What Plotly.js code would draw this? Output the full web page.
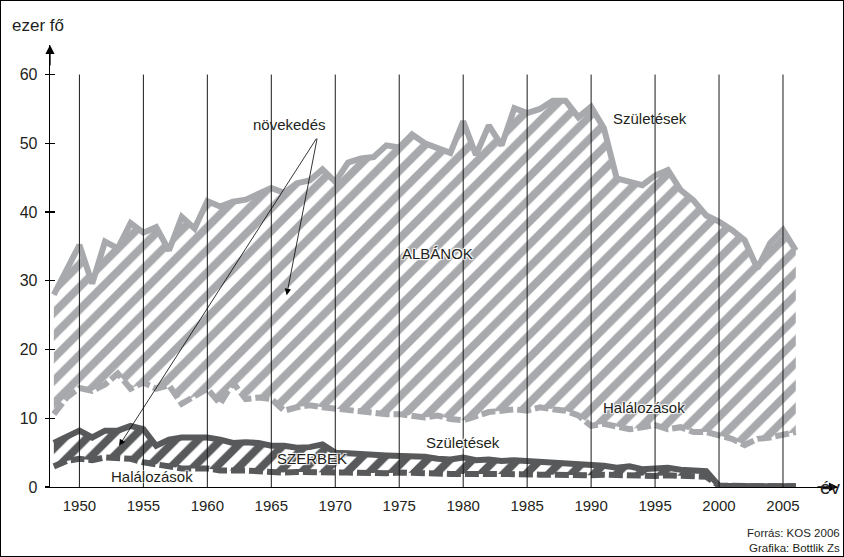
<!DOCTYPE html>
<html>
<head>
<meta charset="utf-8">
<script src="https://cdn.plot.ly/plotly-3.0.1.min.js"></script>
<style>
  html, body { margin: 0; padding: 0; background: #fff; }
  #chart { width: 842px; height: 555px; border: 1px solid #000; }
</style>
</head>
<body>
<div id="chart"></div>
<script>
// ---- data (ezer fő) ----
const years = [1948,1949,1950,1951,1952,1953,1954,1955,1956,1957,1958,1959,1960,1961,1962,1963,1964,1965,1966,1967,1968,1969,1970,1971,1972,1973,1974,1975,1976,1977,1978,1979,1980,1981,1982,1983,1984,1985,1986,1987,1988,1989,1990,1991,1992,1993,1994,1995,1996,1997,1998,1999,2000,2001,2002,2003,2004,2005,2006];

const albBirths = [28.0,31.5,35.2,29.6,35.7,34.7,38.4,37.0,37.8,34.4,39.3,37.6,41.6,40.8,41.5,41.8,42.6,43.5,42.8,44.2,44.6,46.2,44.4,47.2,47.8,48.0,49.7,49.4,51.3,50.0,49.3,48.6,53.2,48.3,52.6,49.7,55.1,54.4,55.0,56.2,56.2,53.8,55.3,52.2,44.9,44.4,43.9,45.3,46.1,43.2,41.7,39.5,38.6,37.4,35.9,31.8,35.5,37.4,34.4];

const albDeaths = [10.6,13.0,14.4,14.0,14.9,16.5,14.3,15.2,14.3,14.8,12.1,13.3,14.3,12.1,15.2,12.8,13.0,12.8,11.1,11.6,11.9,11.6,11.4,11.1,10.9,10.9,10.6,10.6,10.4,10.1,10.4,9.9,9.7,10.4,10.9,11.1,11.3,11.1,11.6,11.3,11.1,10.4,8.9,9.2,8.7,8.4,8.7,9.0,8.4,8.7,8.0,8.0,7.5,7.0,6.1,7.0,7.2,7.5,8.0];

const srbBirths = [6.4,7.4,8.2,7.2,8.2,8.2,8.9,8.4,6.0,6.9,7.2,7.2,7.2,6.9,6.4,6.5,6.4,6.0,6.0,5.7,5.8,6.2,5.0,4.9,4.7,4.7,4.6,4.6,4.5,4.4,4.1,4.0,4.3,3.9,4.0,3.8,3.9,3.8,3.6,3.5,3.4,3.3,3.4,3.1,2.8,3.0,2.6,2.8,2.8,2.5,2.5,2.3,0.2,0.1,0.1,0.1,0.1,0.1,0.1];

const srbDeaths = [3.0,3.8,4.1,3.9,4.3,4.3,4.1,3.6,3.3,2.9,2.7,2.7,2.7,2.4,2.5,2.4,2.3,2.1,2.1,2.2,2.1,2.2,2.1,2.1,2.0,2.0,2.0,2.1,2.0,1.9,2.0,1.9,1.9,2.0,1.9,1.9,1.8,1.9,1.8,1.8,1.7,1.8,1.7,1.8,1.7,1.6,1.7,1.6,1.7,1.6,1.6,1.5,0.2,0.1,0.1,0.1,0.1,0.1,0.1];

const xTicks = [1950,1955,1960,1965,1970,1975,1980,1985,1990,1995,2000,2005];
const yTicks = [0,10,20,30,40,50,60];

// ---- style ----
const LIGHT = '#a7a9ac';
const DARK = '#58595b';
const TXT = '#231f20';
const FONT = '"Liberation Sans", Arial, Helvetica, sans-serif';

function pat(color) {
  return { shape: '/', fgcolor: color, fgopacity: 1, bgcolor: 'rgba(0,0,0,0)', size: 16, solidity: 0.5 };
}

const traces = [
  { x: years, y: albDeaths, type: 'scatter', mode: 'lines',
    line: { color: LIGHT, width: 6, dash: '14px,4px' }, hoverinfo: 'skip' },
  { x: years, y: albBirths, type: 'scatter', mode: 'lines', fill: 'tonexty',
    fillcolor: 'rgba(0,0,0,0)', fillpattern: pat(LIGHT),
    line: { color: LIGHT, width: 6 }, hoverinfo: 'skip' },
  { x: years, y: srbDeaths, type: 'scatter', mode: 'lines',
    line: { color: DARK, width: 6, dash: '14px,4px' }, hoverinfo: 'skip' },
  { x: years, y: srbBirths, type: 'scatter', mode: 'lines', fill: 'tonexty',
    fillcolor: 'rgba(0,0,0,0)', fillpattern: pat(DARK),
    line: { color: DARK, width: 6 }, hoverinfo: 'skip' },
  // invisible trace to activate the overlay axis carrying inner tick marks
  { x: [years[0]], y: [0], xaxis: 'x', yaxis: 'y2', mode: 'markers',
    marker: { opacity: 0 }, hoverinfo: 'skip', showlegend: false }
];

const yTop = yTicks[yTicks.length - 1];
const shapes = xTicks.map(t => ({
  type: 'line', xref: 'x', yref: 'y', x0: t, x1: t, y0: 0, y1: yTop,
  line: { color: '#1a1a1a', width: 1 }, layer: 'above'
}));

const halo = '1px 1px 1px #fff, -1px -1px 1px #fff, 1px -1px 1px #fff, -1px 1px 1px #fff';
function lab(text, x, y, size, shadow) {
  return { text: text, x: x, y: y, xref: 'x', yref: 'y', showarrow: false,
    font: { family: FONT, size: size || 14, color: TXT, shadow: shadow ? halo : 'none' } };
}

const annotations = [
  // axis arrows
  { xref: 'paper', yref: 'paper', x: 0, y: 1, ax: 0, ay: 22, text: '', showarrow: true,
    arrowhead: 2, arrowsize: 1.4, arrowwidth: 1.3, arrowcolor: '#000' },
  { xref: 'paper', yref: 'y', x: 1, y: 0, ax: -22, ay: 0, text: '', showarrow: true,
    arrowhead: 2, arrowsize: 1.4, arrowwidth: 1.3, arrowcolor: '#000' },
  // axis names
  { xref: 'paper', yref: 'paper', x: -0.0508, y: 1.045, xanchor: 'left', yanchor: 'middle',
    text: 'ezer fő', showarrow: false, font: { family: FONT, size: 17, color: TXT } },
  { xref: 'paper', yref: 'paper', x: 0.9746, y: -0.002, xanchor: 'left', yanchor: 'middle',
    text: 'év', showarrow: false, font: { family: FONT, size: 19, color: TXT } },
  // labels
  lab('növekedés', 1966.4, 52.8, 15),
  lab('Születések', 1994.6, 53.6, 15),
  lab('ALBÁNOK', 1978.0, 34.0, 15, true),
  lab('Halálozások', 1994.1, 11.6, 15, true),
  lab('Születések', 1980.0, 6.5, 15, true),
  lab('SZERBEK', 1968.2, 4.2, 15, true),
  lab('Halálozások', 1955.7, 1.6, 15, true),
  // pointer arrows from "növekedés"
  { xref: 'x', yref: 'y', axref: 'x', ayref: 'y', x: 1966.2, y: 27.9, ax: 1968.6, ay: 50.9,
    text: '', showarrow: true, arrowhead: 2, arrowsize: 1.6, arrowwidth: 0.8, arrowcolor: '#000' },
  { xref: 'x', yref: 'y', axref: 'x', ayref: 'y', x: 1953.1, y: 6.0, ax: 1968.6, ay: 50.9,
    text: '', showarrow: true, arrowhead: 2, arrowsize: 1.6, arrowwidth: 0.8, arrowcolor: '#000' },
  // source
  { xref: 'paper', yref: 'paper', x: 1.005, y: -0.104, xanchor: 'right', yanchor: 'middle',
    text: 'Forrás: KOS 2006', showarrow: false, font: { family: FONT, size: 11.5, color: TXT } },
  { xref: 'paper', yref: 'paper', x: 1.005, y: -0.138, xanchor: 'right', yanchor: 'middle',
    text: 'Grafika: Bottlik Zs', showarrow: false, font: { family: FONT, size: 11.5, color: TXT } }
];

const layout = {
  width: 842, height: 555,
  margin: { l: 49, r: 5, t: 44, b: 69 },
  paper_bgcolor: '#fff', plot_bgcolor: '#fff',
  showlegend: false,
  font: { family: FONT, color: TXT },
  xaxis: {
    range: [1947.7, 2009.3], tickvals: xTicks, ticktext: xTicks.map(String),
    showgrid: false, zeroline: false, showline: true, linecolor: '#000', linewidth: 1.3,
    ticks: '', ticklabelstandoff: 5, tickfont: { family: FONT, size: 15, color: TXT },
    fixedrange: true
  },
  yaxis: {
    range: [0, 64.3], tickvals: yTicks, ticktext: yTicks.map(String),
    showgrid: false, zeroline: false, showline: true, linecolor: '#000', linewidth: 1.3,
    ticks: 'outside', ticklen: 4, tickwidth: 1.3, tickcolor: '#000',
    ticklabelstandoff: 4, tickfont: { family: FONT, size: 16, color: TXT },
    fixedrange: true
  },
  yaxis2: {
    overlaying: 'y', side: 'left', range: [0, 64.3], tickvals: yTicks,
    showticklabels: false, showgrid: false, zeroline: false, showline: false,
    ticks: 'inside', ticklen: 5, tickwidth: 1.3, tickcolor: '#000', fixedrange: true
  },
  shapes: shapes,
  annotations: annotations
};

Plotly.newPlot('chart', traces, layout, { staticPlot: true, displayModeBar: false });
</script>
</body>
</html>
